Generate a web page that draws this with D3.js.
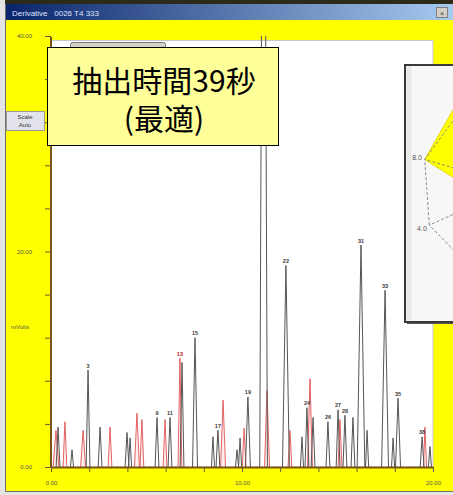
<!DOCTYPE html>
<html>
<head>
<meta charset="utf-8">
<script src="https://cdn.jsdelivr.net/npm/d3@7"></script>
<style>
  html, body { margin: 0; padding: 0; background: #ffffff; }
  svg { display: block; }
</style>
</head>
<body>
<svg id="chart" width="453" height="495"></svg>
<script>
// ---- Chromatogram: detector A (dark trace) ----
// retention time (min), apex height (mV), half base width (min), peak number label
const peakTimeA   = [0.37, 1.10, 1.94, 2.57, 3.98, 4.14, 5.55, 6.23, 6.86, 7.54, 8.48, 8.74, 9.74, 9.90, 10.31, 11.13, 12.30, 13.14, 13.40, 13.72, 14.50, 15.03, 15.39, 15.81, 16.23, 16.55, 17.49, 17.91, 18.17, 19.43, 19.84];
const peakHeightA = [3.7, 1.6, 9.0, 3.7, 3.2, 2.7, 4.6, 4.6, 9.7, 12.0, 2.8, 3.4, 1.6, 2.7, 6.5, 90.0, 18.7, 2.8, 5.5, 4.6, 4.2, 5.3, 4.8, 4.6, 20.6, 3.4, 16.4, 2.7, 6.4, 2.8, 1.9];
const peakWidthA  = [0.10, 0.08, 0.10, 0.10, 0.10, 0.08, 0.10, 0.10, 0.10, 0.13, 0.08, 0.10, 0.08, 0.08, 0.13, 0.20, 0.18, 0.08, 0.10, 0.10, 0.10, 0.10, 0.10, 0.10, 0.20, 0.08, 0.18, 0.08, 0.13, 0.10, 0.08];
const peakLabelA  = ["", "", "3", "", "", "", "9", "11", "", "15", "", "17", "", "", "19", "", "22", "", "24", "", "26", "27", "28", "", "31", "", "33", "", "35", "38", ""];

// ---- Chromatogram: detector B (red trace) ----
const peakTimeB   = [0.26, 0.73, 1.68, 3.09, 4.50, 4.76, 5.97, 6.75, 9.01, 10.11, 11.31, 12.51, 13.56, 15.13, 19.58];
const peakHeightB = [3.4, 4.2, 3.4, 3.7, 5.0, 4.4, 4.4, 10.1, 6.2, 3.6, 7.1, 3.4, 8.2, 4.4, 3.7];
const peakWidthB  = [0.15, 0.10, 0.13, 0.10, 0.13, 0.10, 0.10, 0.10, 0.13, 0.10, 0.13, 0.10, 0.13, 0.10, 0.08];
const peakLabelB  = ["", "", "", "", "", "", "", "13", "", "", "", "", "", "", ""];

// ---- Axes ----
const xTickValues = [0, 2, 4, 6, 8, 10, 12, 14, 16, 18, 20];
const xTickLabels = ["0.00", "", "", "", "", "10.00", "", "", "", "", "20.00"];
const yTickValues = [0, 4, 8, 12, 16, 20, 24, 28, 32, 36, 40];
const yTickLabels = ["0.00", "", "", "", "", "20.00", "", "", "", "", "40.00"];
const yAxisTitle = "mVolts";

// ---- Window chrome text ----
const windowTitle = "Derivative   0026 T4 333";
const sideButtons = ["Scale", "Auto"];

// ---- Callout ----
const calloutLines = ["抽出時間39秒", "(最適)"];

// ---- Radar inset (sensory profile, scale 2–8) ----
const radarAngles = [156, 196, 236, 276, 316, 356, 36, 76, 116];   // spoke directions, degrees
const radarScores = [4.0, 8.0, 8.5, 5.0, 4.0, 3.0, 4.0, 5.0, 3.0];
const radarScoreLabels = ["4.0", "8.0", "8.5", "5.0", "4.0", "3.0", "4.0", "5.0", "3.0"];
const radarRings = [4, 6, 8];

const svg = d3.select("#chart");
const W = 453, H = 495;

// ---------- window background ----------
const defs = svg.append("defs");
const tg = defs.append("linearGradient").attr("id", "titleGrad").attr("x1", 0).attr("x2", 1);
tg.append("stop").attr("offset", "0%").attr("stop-color", "#0a246a");
tg.append("stop").attr("offset", "100%").attr("stop-color", "#a6caf0");

svg.append("rect").attr("x", 0).attr("y", 0).attr("width", W).attr("height", H).attr("fill", "#ffff00");
svg.append("rect").attr("x", 0).attr("y", 0).attr("width", W).attr("height", 4).attr("fill", "#2c2a18");
svg.append("rect").attr("x", 0).attr("y", 0).attr("width", 5).attr("height", H).attr("fill", "#e4e4e4");
svg.append("line").attr("x1", 5.5).attr("x2", 5.5).attr("y1", 4).attr("y2", H).attr("stroke", "#6e6e6e");
svg.append("rect").attr("x", 0).attr("y", 491).attr("width", W).attr("height", 4).attr("fill", "#e4e4e4");
svg.append("line").attr("x1", 5).attr("x2", W).attr("y1", 491.5).attr("y2", 491.5).attr("stroke", "#6e6e6e");

// title bar
svg.append("rect").attr("x", 6).attr("y", 4).attr("width", W - 6).attr("height", 16).attr("fill", "url(#titleGrad)");
svg.append("text").attr("x", 12).attr("y", 15.5)
  .attr("font-family", "Liberation Sans, Arial, sans-serif").attr("font-size", 8)
  .attr("fill", "#dfe6ff").attr("xml:space", "preserve").text(windowTitle);
svg.append("rect").attr("x", 436.5).attr("y", 7.5).attr("width", 11).attr("height", 10)
  .attr("fill", "#d4d0c8").attr("stroke", "#808080");
svg.append("text").attr("x", 442).attr("y", 15.5).attr("text-anchor", "middle")
  .attr("font-family", "Liberation Sans, Arial, sans-serif").attr("font-size", 8).attr("fill", "#444").text("×");

// ---------- scales ----------
const x = d3.scaleLinear().domain([0, 20]).range([51, 433]);
const y = d3.scaleLinear().domain([0, 40]).range([467, 36]);

// plot area
svg.append("rect").attr("x", 51).attr("y", 40.5).attr("width", 382).attr("height", 426.5)
  .attr("fill", "#ffffff").attr("stroke", "#c8c8c8").attr("stroke-width", 1);

// top toolbar button inside the plot
svg.append("rect").attr("x", 70.5).attr("y", 42.5).attr("width", 95).attr("height", 14).attr("rx", 2)
  .attr("fill", "#d4d0c8").attr("stroke", "#7a7a7a");

// ---------- peaks ----------
defs.append("clipPath").attr("id", "plotClip")
  .append("rect").attr("x", 51).attr("y", 36).attr("width", 382).attr("height", 431);

const peakPath = (t, h, w) => {
  const p = d3.path();
  p.moveTo(x(t - w), y(0));
  p.lineTo(x(t), y(h));
  p.lineTo(x(t + w), y(0));
  return p.toString();
};

const traces = svg.append("g").attr("clip-path", "url(#plotClip)");

const peaksB = peakTimeB.map((t, i) => ({ t, h: peakHeightB[i], w: peakWidthB[i], label: peakLabelB[i] }));
const peaksA = peakTimeA.map((t, i) => ({ t, h: peakHeightA[i], w: peakWidthA[i], label: peakLabelA[i] }));

traces.selectAll("path.pb").data(peaksB).join("path").attr("class", "pb")
  .attr("d", d => peakPath(d.t, d.h, d.w))
  .attr("fill", "#fde3e3").attr("fill-opacity", 0.6)
  .attr("stroke", "#e04a4a").attr("stroke-width", 1).attr("stroke-opacity", 0.85);

traces.selectAll("path.pa").data(peaksA).join("path").attr("class", "pa")
  .attr("d", d => peakPath(d.t, d.h, d.w))
  .attr("fill", "none")
  .attr("stroke", "#555").attr("stroke-width", 1);

// peak number labels
const labelFont = "Liberation Sans, Arial, sans-serif";
const peakLabels = svg.append("g");
peakLabels.selectAll("text.la").data(peaksA.filter(d => d.label)).join("text").attr("class", "la")
  .attr("x", d => x(d.t)).attr("y", d => y(d.h) - 2.5)
  .attr("text-anchor", "middle").attr("font-family", labelFont).attr("font-size", 5.5)
  .attr("font-weight", "bold").attr("fill", "#3a3a3a").text(d => d.label);
peakLabels.selectAll("text.lb").data(peaksB.filter(d => d.label)).join("text").attr("class", "lb")
  .attr("x", d => x(d.t)).attr("y", d => y(d.h) - 2.5)
  .attr("text-anchor", "middle").attr("font-family", labelFont).attr("font-size", 5.5)
  .attr("font-weight", "bold").attr("fill", "#b02020").text(d => d.label);

// ---------- axes ----------
const axisColor = "#7a5418";
const yAxis = d3.axisLeft(y).tickValues(yTickValues).tickSize(6).tickSizeOuter(0).tickPadding(13)
  .tickFormat((d, i) => yTickLabels[i]);
const gy = svg.append("g").attr("transform", "translate(51,0)").call(yAxis);
gy.select(".domain").attr("stroke", axisColor).attr("stroke-width", 2)
  .attr("d", `M0,${y(40) + 1}V${y(0)}`);
gy.selectAll(".tick line").attr("stroke", "#6a5a3a");
gy.selectAll(".tick text").attr("font-family", labelFont).attr("font-size", 6).attr("fill", "#555");

const xAxis = d3.axisBottom(x).tickValues(xTickValues).tickSize(5).tickSizeOuter(0).tickPadding(9)
  .tickFormat((d, i) => xTickLabels[i]);
const gx = svg.append("g").attr("transform", "translate(0,467)").call(xAxis);
gx.select(".domain").attr("stroke", axisColor).attr("stroke-width", 2);
gx.selectAll(".tick line").attr("stroke", "#6a5a3a");
gx.selectAll(".tick text").attr("font-family", labelFont).attr("font-size", 6).attr("fill", "#555");

svg.append("text").attr("x", 20).attr("y", 329).attr("text-anchor", "middle")
  .attr("font-family", labelFont).attr("font-size", 6).attr("fill", "#555").text(yAxisTitle);

// side buttons
const btn = svg.append("g");
btn.append("rect").attr("x", 6.5).attr("y", 111.5).attr("width", 38).attr("height", 19)
  .attr("fill", "#e2e2ea").attr("stroke", "#9a9a9a");
btn.selectAll("text").data(sideButtons).join("text")
  .attr("x", 25).attr("y", (d, i) => 119 + i * 8).attr("text-anchor", "middle")
  .attr("font-family", labelFont).attr("font-size", 6).attr("fill", "#333").text(d => d);

// ---------- callout ----------
svg.append("rect").attr("x", 47.5).attr("y", 47.5).attr("width", 231).attr("height", 98)
  .attr("fill", "#ffff99").attr("stroke", "#000").attr("stroke-width", 1);
svg.selectAll("text.callout").data(calloutLines).join("text").attr("class", "callout")
  .attr("x", 164).attr("y", (d, i) => 92 + i * 38).attr("text-anchor", "middle")
  .attr("font-family", "Noto Sans CJK JP, sans-serif").attr("font-size", 30).attr("fill", "#000")
  .text(d => d);

// ---------- radar inset ----------
const inset = { x: 405, y: 65, w: 60, h: 257 };
svg.append("rect").attr("x", inset.x + 2).attr("y", inset.y + 2).attr("width", inset.w).attr("height", inset.h)
  .attr("fill", "#5a5a5a");
svg.append("rect").attr("x", inset.x).attr("y", inset.y).attr("width", inset.w).attr("height", inset.h)
  .attr("fill", "#f7f7f7").attr("stroke", "#3a3a3a").attr("stroke-width", 2);
svg.append("rect").attr("x", inset.x + 1.5).attr("y", inset.y + 1.5).attr("width", 5).attr("height", inset.h - 3)
  .attr("fill", "#e8e8e8");

defs.append("clipPath").attr("id", "insetClip")
  .append("rect").attr("x", inset.x + 1).attr("y", inset.y + 1).attr("width", inset.w).attr("height", inset.h - 2);

const cx = 517, cy = 186;
const radar = svg.append("g").attr("clip-path", "url(#insetClip)")
  .append("g").attr("transform", `translate(${cx},${cy})`);
const r = d3.scaleLinear().domain([2, 8]).range([0, 96]);
const rad = a => a * Math.PI / 180;
const pt = (a, rr) => [Math.cos(rad(a)) * rr, Math.sin(rad(a)) * rr];

radar.append("path")
  .attr("d", d3.line().curve(d3.curveLinearClosed)(radarAngles.map((a, i) => pt(a, r(radarScores[i])))))
  .attr("fill", "#ffff00").attr("stroke", "#e6d800").attr("stroke-width", 1);

radar.selectAll("path.ring").data(radarRings).join("path").attr("class", "ring")
  .attr("d", v => d3.line().curve(d3.curveLinearClosed)(radarAngles.map(a => pt(a, r(v)))))
  .attr("fill", "none").attr("stroke", "#8a8a8a").attr("stroke-dasharray", "3,2");
radar.selectAll("line.spoke").data(radarAngles).join("line").attr("class", "spoke")
  .attr("x1", 0).attr("y1", 0)
  .attr("x2", a => pt(a, r(8))[0]).attr("y2", a => pt(a, r(8))[1])
  .attr("stroke", "#8a8a8a").attr("stroke-dasharray", "3,2");

// score labels at the spoke ends (the ones past the window edge fall outside the page)
svg.append("g").selectAll("text.sl").data(radarAngles).join("text").attr("class", "sl")
  .attr("x", a => cx + pt(a, r(8) + 8)[0]).attr("y", a => cy + pt(a, r(8) + 8)[1] + 2.5)
  .attr("text-anchor", "middle")
  .attr("font-family", labelFont).attr("font-size", 7).attr("fill", "#555")
  .text((a, i) => radarScoreLabels[i]);
</script>
</body>
</html>
